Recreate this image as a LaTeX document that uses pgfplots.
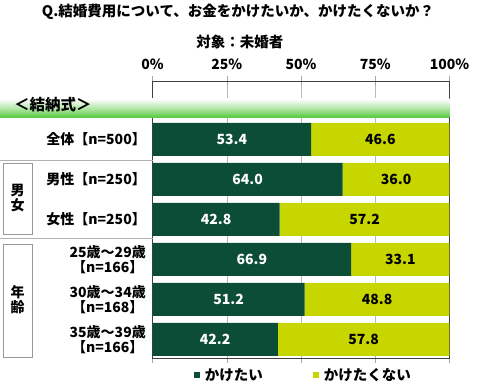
\documentclass[border=0pt]{standalone}
\usepackage{fontspec}
\setmainfont{Noto Sans CJK JP}
\usepackage{pgfplots}
\usepackage{pgfplotstable}
\pgfplotsset{compat=1.18}
\definecolor{darkg}{RGB}{12,77,56}
\definecolor{lightg}{RGB}{200,214,0}
\definecolor{bandg}{RGB}{80,200,55}
\pgfplotstableread{
y want nowant
0 53.4 46.6
1 64.0 36.0
2 42.8 57.2
3 66.9 33.1
4 51.2 48.8
5 42.2 57.8
}\data
\pgfplotstableread{
x y label
26.70 0 53.4
32.00 1 64.0
21.40 2 42.8
33.45 3 66.9
25.60 4 51.2
21.10 5 42.2
}\darklabels
\pgfplotstableread{
x y label
76.70 0 46.6
82.00 1 36.0
71.40 2 57.2
83.45 3 33.1
75.60 4 48.8
71.10 5 57.8
}\lightlabels
\pgfplotsset{geom/.style={
  scale only axis, width=297pt, height=277pt,
  xmin=0, xmax=100, ymin=-1.4625, ymax=5.4625, y dir=reverse,
  clip=false,
}}
\begin{document}
\begin{tikzpicture}[font=\bfseries]
\begin{axis}[geom, name=main,
  xbar stacked, bar width=33pt,
  xtick={0,25,50,75,100}, xticklabels={0\%,25\%,50\%,75\%,100\%},
  xticklabel pos=upper,
  ytick={0,...,5},
  yticklabels={{全体【n=500】},{男性【n=250】},{女性【n=250】},{25歳～29歳\\【n=166】},{30歳～34歳\\【n=168】},{35歳～39歳\\【n=166】}},
  minor ytick={0.5,1.5,2.5,3.5,4.5},
  xmajorgrids, grid style={gray!55},
  tick align=center, major tick length=10pt, minor tick length=8pt,
  ytick style={draw=none},
  minor y tick style={gray!70},
  x tick style={gray!70},
  axis line style={black!75, line width=0.9pt},
  xticklabel style={font=\bfseries\fontsize{14pt}{15pt}\selectfont, yshift=3pt},
  yticklabel style={font=\bfseries\fontsize{14pt}{15pt}\selectfont, align=center, inner sep=0pt, xshift=-1.5pt},
  legend columns=2,
  legend style={draw=none, fill=none, at={(0.508,-0.062)}, anchor=center,
    font=\bfseries\fontsize{14.5pt}{15pt}\selectfont, column sep=3pt,
    /tikz/column 2/.style={column sep=48pt}},
  legend image code/.code={\fill[#1] (0pt,-3pt) rectangle (6pt,3pt);},
  legend cell align=left,
]
\coordinate (tl) at (axis cs:-51.35,-3.4875);
\coordinate (br) at (axis cs:110.27,6.2125);
\coordinate (bandtxt) at (axis cs:-46.63,-0.8625);
\fill[top color=white, bottom color=bandg, middle color=bandg!45] (axis cs:-51.35,-1.0125) rectangle (axis cs:100,-0.5375);
\addplot[fill=darkg, draw=none] table[x=want,y=y]{\data};
\addlegendentry{かけたい}
\addplot[fill=lightg, draw=none] table[x=nowant,y=y]{\data};
\addlegendentry{かけたくない}
% titles and decorations
\node[font=\bfseries\fontsize{14.5pt}{16pt}\selectfont] at (axis cs:28.79,-3.1875) {Q.結婚費用について、お金をかけたいか、かけたくないか？};
\node[font=\bfseries\fontsize{14.5pt}{16pt}\selectfont] at (axis cs:29.46,-2.4375) {対象：未婚者};
\draw[gray!60] (axis cs:-51.35,0.5125) -- (axis cs:0,0.5125);
\draw[gray!60] (axis cs:-51.35,2.4625) -- (axis cs:0,2.4625);
\draw[gray!80] (axis cs:-50.34,0.5875) rectangle (axis cs:-40.57,2.3625);
\draw[gray!80] (axis cs:-50.34,2.6125) rectangle (axis cs:-40.57,5.4375);
\node[align=center, font=\bfseries\fontsize{14pt}{15pt}\selectfont] at (axis cs:-45.45,1.475) {男\\女};
\node[align=center, font=\bfseries\fontsize{14pt}{15pt}\selectfont] at (axis cs:-45.45,4.0125) {年\\齢};
\end{axis}
\begin{axis}[geom, at={(main.south west)}, anchor=south west, hide axis]
\addplot[draw=none, mark=none, nodes near coords, point meta=explicit symbolic,
  every node near coord/.append style={anchor=center, white, font=\bfseries\fontsize{14pt}{16pt}\selectfont}]
  table[x=x,y=y,meta=label]{\darklabels};
\addplot[draw=none, mark=none, nodes near coords, point meta=explicit symbolic,
  every node near coord/.append style={anchor=center, black, font=\bfseries\fontsize{14pt}{16pt}\selectfont}]
  table[x=x,y=y,meta=label]{\lightlabels};
\end{axis}
\node[anchor=west, font=\bfseries\fontsize{15.5pt}{16pt}\selectfont, inner sep=0pt] at (bandtxt) {＜結納式＞};
\pgfresetboundingbox
\path[use as bounding box] (tl) rectangle (br);
\end{tikzpicture}
\end{document}
